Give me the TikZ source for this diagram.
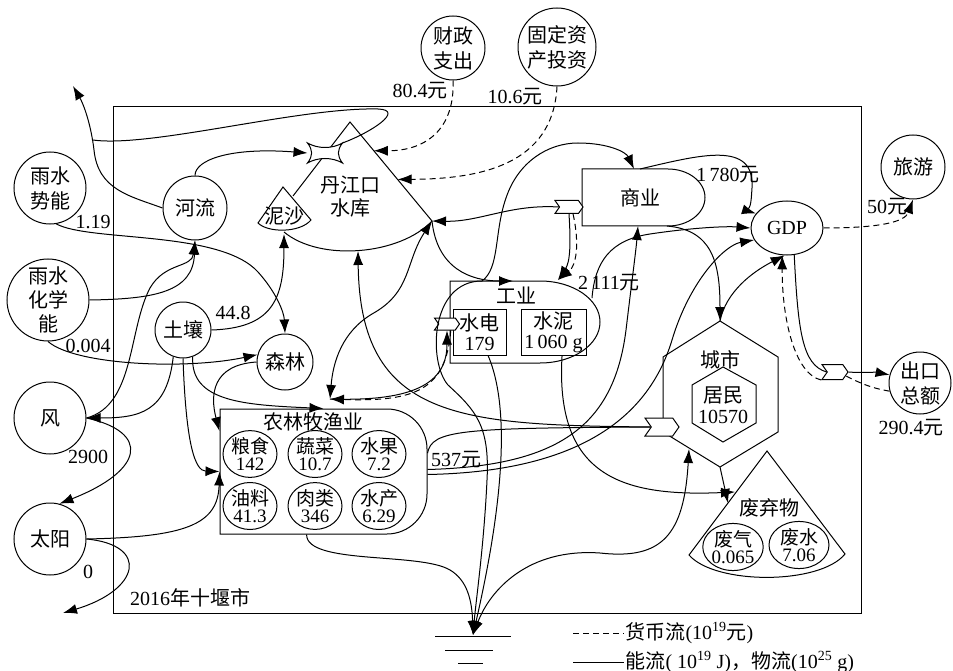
\documentclass[tikz,border=0pt]{standalone}
\usepackage{fontspec}
\usepackage{tikz}
\usetikzlibrary{shapes.geometric, shapes.symbols, arrows.meta, calc}
\setmainfont{Liberation Serif}
\newfontfamily\cjk{Noto Sans CJK SC}
\newcommand{\zh}[1]{{\cjk #1}}

\begin{document}
\begin{tikzpicture}[x=1pt, y=-1pt, line width=1pt,
    font=\fontsize{20}{25}\selectfont,
    >={Latex[length=14pt, width=10pt]},
    pool/.style={circle, draw, inner sep=0pt, align=center},
    crop/.style={ellipse, draw, inner sep=0pt, minimum width=54pt,
                 minimum height=40pt, align=center,
                 font=\fontsize{19}{17}\selectfont},
    area/.style={rectangle, inner sep=0pt},
    subbox/.style={rectangle, draw, inner sep=0pt, align=center,
                   minimum height=46pt, font=\fontsize{20}{20}\selectfont},
    deal/.style={signal, signal from=west, signal to=east,
                 signal pointer angle=110, draw, fill=white, inner sep=0pt},
    eflow/.style={->},
    mflow/.style={->, dash pattern=on 6pt off 4pt},
    mline/.style={dash pattern=on 6pt off 4pt},
    lbl/.style={inner sep=1pt}]

\useasboundingbox (0,0) rectangle (953,671);

%% ── System frame ─────────────────────────────────────────────────────────────
\draw (113,107) rectangle (861,613);
\node[lbl] (year) at (190,598) {2016\zh{年十堰市}};

%% ── Outside sources ──────────────────────────────────────────────────────────
\node[pool, minimum size=64pt] (fin) at (453,48) {\zh{财政}\\\zh{支出}};
\node[pool, minimum size=78pt] (inv) at (557,47) {\zh{固定资}\\\zh{产投资}};
\node[pool, minimum size=64pt] (tour) at (913,167) {\zh{旅游}};
\node[pool, minimum size=62pt] (export) at (920,383) {\zh{出口}\\\zh{总额}};
\node[pool, minimum size=72pt] (rainpot) at (50,188) {\zh{雨水}\\\zh{势能}};
\node[pool, minimum size=82pt, font=\fontsize{20}{24}\selectfont]
    (rainchem) at (48,300) {\zh{雨水}\\\zh{化学}\\\zh{能}};
\node[pool, minimum size=72pt] (wind) at (50,418) {\zh{风}};
\node[pool, minimum size=72pt] (sun) at (50,539) {\zh{太阳}};

%% ── Natural stores ───────────────────────────────────────────────────────────
\node[pool, minimum size=64pt] (river) at (195,208) {\zh{河流}};
\node[pool, minimum size=56pt] (soil) at (183,330) {\zh{土壤}};
\node[pool, minimum size=56pt] (forest) at (285,362) {\zh{森林}};

%% Reservoir tank with silt tank
\coordinate (restop) at (350,122);
\coordinate (rescorner) at (432,221);
\coordinate (resbot) at (358,251);
\draw (293,196) -- (restop) -- (rescorner)
    .. controls (400,255) and (320,262) .. (284,232);
\node[align=center, font=\fontsize{20}{23}\selectfont] (res) at (350,197)
    {\zh{丹江口}\\\zh{水库}};
\draw (283,187) -- (311,220) .. controls (300,233) and (268,233) .. (258,223) -- cycle;
\node (silt) at (284,216) {\zh{泥沙}};
\coordinate (siltbot) at (284,234);

%% Interaction on top of the reservoir
\node[minimum width=34pt, minimum height=19pt, inner sep=0pt] (gate) at (325,153) {};
\draw[fill=white] (gate.north west) .. controls (318,149) and (332,149) .. (gate.north east)
    .. controls (337,150) and (337,156) .. (gate.south east)
    .. controls (332,157) and (318,157) .. (gate.south west)
    .. controls (313,156) and (313,150) .. cycle;

%% ── Economic sectors ─────────────────────────────────────────────────────────
\draw (582,169) -- (668,169) arc[start angle=-90, end angle=90, x radius=37, y radius=28.5]
    -- (582,226) -- cycle;
\node (commerce) at (640,197.5) {\zh{商业}};

\draw (450,281) -- (540,281) arc[start angle=-90, end angle=90, x radius=60, y radius=41]
    -- (450,363) -- cycle;
\node (indlbl) at (516,295) {\zh{工业}};
\node[subbox, minimum width=53pt] (hydro) at (479.5,332) {\zh{水电}\\179};
\node[subbox, minimum width=65pt] (cement) at (553.5,332) {\zh{水泥}\\1\,060 g};

\node[area, minimum width=207pt, minimum height=125pt] (agri) at (323.5,471.5) {};
\draw (220,409) -- (387,409) arc[start angle=-90, end angle=0, radius=40]
    -- (427,494) arc[start angle=0, end angle=90, radius=40] -- (220,534) -- cycle;
\node (agrilbl) at (313,422) {\zh{农林牧渔业}};
\node[crop] (grain) at (250,454) {\zh{粮食}\\142};
\node[crop] (veg) at (315,454) {\zh{蔬菜}\\10.7};
\node[crop] (fruit) at (379,454) {\zh{水果}\\7.2};
\node[crop] (oil) at (250,506) {\zh{油料}\\41.3};
\node[crop] (meat) at (315,506) {\zh{肉类}\\346};
\node[crop] (fish) at (379,506) {\zh{水产}\\6.29};

\node[ellipse, draw, minimum width=72pt, minimum height=54pt, inner sep=0pt]
    (gdp) at (787,228) {GDP};

%% City hexagons
\coordinate (citytop) at (720,321);
\coordinate (citybot) at (720,467);
\coordinate (cityll) at (689,449);
\draw (citytop) -- (778,357) -- (778,432) -- (citybot) -- (663,432) -- (663,357) -- cycle;
\draw (723,367) -- (756,385) -- (756,423) -- (723,442) -- (692,423) -- (692,385) -- cycle;
\node (city) at (720,360) {\zh{城市}};
\node[align=center, font=\fontsize{20}{21}\selectfont] (resident) at (723,405)
    {\zh{居民}\\10570};

%% Waste tank
\draw (767,451) -- (845,554) .. controls (820,585) and (715,585) .. (689,555) -- cycle;
\node (waste) at (769,508) {\zh{废弃物}};
\node[crop, minimum width=60pt, minimum height=46pt] (gas) at (733,547) {\zh{废气}\\0.065};
\node[crop, minimum width=60pt, minimum height=46pt] (water) at (799,545) {\zh{废水}\\7.06};

%% Transaction tags
\node[deal, minimum width=28pt, minimum height=13pt] (csig) at (569,207) {};
\node[deal, minimum width=25pt, minimum height=12pt] (isig) at (447,324) {};
\node[deal, minimum width=34pt, minimum height=18pt] (tsig) at (662,427) {};
\node[deal, minimum width=26pt, minimum height=15pt] (esig) at (835,372) {};

%% ── Free ends ────────────────────────────────────────────────────────────────
\coordinate (riverout) at (73,86);
\coordinate (loopjoin) at (93,140);
\coordinate (sunout) at (63,613);
\coordinate (sink) at (473,635);
\coordinate (resin1) at ($(restop)!0.29!(rescorner)$);
\coordinate (resin2) at ($(restop)!0.58!(rescorner)$);
\coordinate (agriwest2) at ($(agri.north west)!0.18!(agri.south west)$);
\coordinate (agrin) at (330,399);
\coordinate (agrio1) at ($(agri.east)+(0,-2)$);
\coordinate (agrio2) at ($(agri.east)+(0,3)$);
\coordinate (indtop0) at (482,281);
\coordinate (indtop1) at (513,281);
\coordinate (indtop2) at (558,280);
\coordinate (indne) at (592,298);
\coordinate (comtop) at (634,169);
\coordinate (comtop2) at (640,169);
\coordinate (combot) at (638,226);
\coordinate (comse) at (667,226);
\coordinate (wastein1) at (735,492);
\coordinate (wastein2) at (728,503);

%% ── Natural flows ────────────────────────────────────────────────────────────
\draw[eflow] (rainpot.-80) .. controls (90,242) and (220,230) .. (258,272)
    .. controls (276,292) and (284,312) .. (forest.north);
\node[lbl] (l119) at (93,222) {1.19};
\draw[eflow] (rainchem.east) .. controls (155,299) and (193,292) .. (river.south);
\draw[eflow] (rainchem.south) .. controls (75,365) and (185,370) .. (forest.165);
\node[lbl] (l0004) at (88,346) {0.004};
\draw[eflow] (wind.east) .. controls (135,405) and (128,330) .. (150,288)
    .. controls (165,262) and (192,268) .. (river.south);
\draw[eflow] (soil.250) .. controls (167,412) and (140,418) .. (wind.east);
\draw[eflow] (wind.east) .. controls (150,432) and (145,470) .. (sun.75);
\node[lbl] (l2900) at (88,457) {2900};
\draw[eflow] (sun.east) .. controls (150,545) and (140,590) .. (sunout);
\node[lbl] (l0) at (88,572) {0};
\draw[eflow] (sun.east) .. controls (185,537) and (218,525) .. (agri.west);
\draw[eflow] (soil.south) .. controls (186,445) and (195,471) .. (agri.west);
\draw[eflow] (soil.-70) .. controls (190,402) and (245,405) .. (agri.north);
\draw[eflow] (forest.west) .. controls (212,365) and (210,395) .. (agriwest2);
\draw[eflow] (soil.east) .. controls (272,328) and (284,300) .. (siltbot);
\node[lbl] (l448) at (233,313) {44.8};
\draw[eflow] (river.north) .. controls (195,160) and (230,147) .. (gate.west);
\draw[eflow] (river.west) .. controls (130,196) and (98,190) .. (94,150)
    .. controls (91,125) and (84,105) .. (riverout);
\draw (gate.north east) .. controls (372,132) and (405,110) .. (378,109)
    .. controls (300,107) and (150,148) .. (loopjoin);

%% ── Money into the reservoir ─────────────────────────────────────────────────
\draw[mflow] (fin.south) .. controls (455,130) and (425,151) .. (resin1);
\node[lbl] (l804) at (420,91) {80.4\zh{元}};
\draw[mflow] (inv.south) .. controls (553,165) and (480,179) .. (resin2);
\node[lbl] (l106) at (515,97) {10.6\zh{元}};

%% ── Reservoir, industry, commerce ────────────────────────────────────────────
\draw[eflow] (csig.west) .. controls (510,204) and (480,222) .. (rescorner);
\draw[eflow] (rescorner) .. controls (437,268) and (470,281) .. (indtop1);
\draw[eflow] (indtop0) .. controls (500,268) and (494,232) .. (506,198)
    .. controls (518,162) and (548,143) .. (578,143)
    .. controls (608,143) and (626,152) .. (comtop);
\draw[eflow] (csig.south) .. controls (571,245) and (570,262) .. (indtop2);
\draw[mflow] (csig.-60) .. controls (580,245) and (576,266) .. (indtop2);
\draw[<->] (rescorner) .. controls (405,262) and (412,292) .. (372,314)
    .. controls (342,332) and (333,362) .. (agrin);
\draw[eflow] (agrin) .. controls (420,402) and (447,380) .. (isig.south);
\draw[mflow] (isig.-60) .. controls (446,390) and (415,402) .. (agrin);

%% ── Agriculture and city ─────────────────────────────────────────────────────
\draw[eflow] (tsig.west) .. controls (460,425) and (360,420) .. (resbot);
\draw (agri.10) .. controls (432,430) and (460,428) .. (tsig.west);
\draw[eflow] (agrio1) .. controls (560,466) and (614,425) .. (626,330)
    .. controls (632,280) and (636,250) .. (combot);
\draw[eflow] (agrio2) .. controls (560,472) and (645,430) .. (672,340)
    .. controls (690,280) and (725,245) .. (gdp.200);
\node[lbl] (l537) at (456,460) {537\zh{元}};

%% ── GDP and exports ──────────────────────────────────────────────────────────
\draw[eflow] (indne) .. controls (595,262) and (610,240) .. (650,234)
    .. controls (690,228) and (725,226) .. (gdp.west);
\node[lbl] (l2111) at (609,283) {2\,111\zh{元}};
\draw[eflow] (comtop2) .. controls (700,155) and (755,140) .. (752,188)
    .. controls (751,203) and (751,212) .. (gdp.155);
\node[lbl] (l1780) at (728,175) {1\,780\zh{元}};
\draw[eflow] (comse) .. controls (712,230) and (720,262) .. (citytop);
\draw[eflow] (citytop) .. controls (726,292) and (752,272) .. (gdp.-95);
\draw (gdp.-75) .. controls (798,330) and (802,365) .. (esig.west);
\draw[mflow] (esig.-150) .. controls (795,374) and (782,320) .. (gdp.-100);
\draw[eflow] (esig.east) .. controls (860,373) and (875,372) .. (export.165);
\draw[mline] (export.195) .. controls (870,388) and (858,382) .. (esig.-20);
\node[lbl] (l2904) at (911,428) {290.4\zh{元}};
\draw[mflow] (gdp.east) .. controls (880,228) and (905,222) .. (tour.south);
\node[lbl] (l50) at (887,207) {50\zh{元}};

%% ── Wastes and heat sink ─────────────────────────────────────────────────────
\draw[eflow] (cement.-70) .. controls (555,475) and (620,497) .. (wastein1);
\draw[eflow] (citybot) -- (wastein2);
\draw[eflow] (indtop0) .. controls (430,281) and (428,362) .. (448,385)
    .. controls (475,410) and (490,425) .. (487,480)
    .. controls (484,545) and (476,600) .. (sink);
\draw[eflow] (hydro.-70) .. controls (518,425) and (490,560) .. (sink);
\draw[eflow] (agri.-105) .. controls (306,565) and (420,552) .. (450,570)
    .. controls (467,580) and (472,600) .. (sink);
\draw[<->] (cityll) .. controls (684,535) and (662,560) .. (600,553)
    .. controls (528,548) and (490,590) .. (sink);

\draw (435,636) -- (511,636);
\draw (445,650) -- (493,650);
\draw (458,663) -- (483,663);

%% ── Legend ───────────────────────────────────────────────────────────────────
\draw[mline] (573,633) -- (624,633) node[right, inner sep=1pt] (legm)
    {\zh{货币流}(10\textsuperscript{19}\zh{元})};
\draw (573,662) -- (624,662) node[right, inner sep=1pt] (lege)
    {\zh{能流}( 10\textsuperscript{19} J)\zh{，物流}(10\textsuperscript{25} g)};

\end{tikzpicture}
\end{document}
